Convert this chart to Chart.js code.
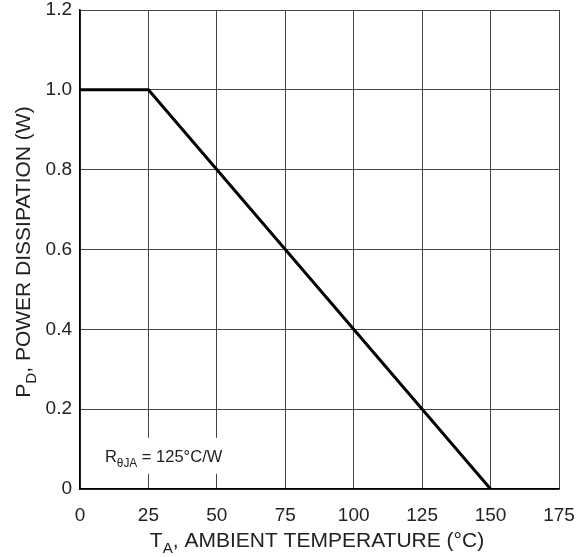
<!DOCTYPE html>
<html>
<head>
<meta charset="utf-8">
<script src="https://cdn.jsdelivr.net/npm/chart.js@4"></script>
<style>
  html, body { margin: 0; padding: 0; background: #fff; }
  #wrap { width: 579px; height: 557px; }
</style>
</head>
<body>
<div id="wrap"><canvas id="line-chart" width="579" height="557"></canvas></div>
<script>
// derating curve
var temps = [0, 25, 150];
var power = [1.0, 1.0, 0];
var xTicks = [0, 25, 50, 75, 100, 125, 150, 175];
var yTicks = [0, 0.2, 0.4, 0.6, 0.8, 1.0, 1.2];
var note = 'R', noteSub = '\u03b8JA', noteRest = ' = 125\u00b0C/W';

var FONT = '"Liberation Sans", Arial, sans-serif';

// subscript text helper
function subText(ctx, parts, x, y, size) {
    parts.forEach(function(p) {
        ctx.font = (p.sub ? size * 0.72 : size) + 'px ' + FONT;
        ctx.fillText(p.t, x, y + (p.sub ? size * 0.3 : 0));
        x += ctx.measureText(p.t).width;
    });
    return x;
}
function subWidth(ctx, parts, size) {
    var w = 0;
    parts.forEach(function(p) {
        ctx.font = (p.sub ? size * 0.72 : size) + 'px ' + FONT;
        w += ctx.measureText(p.t).width;
    });
    return w;
}

var extras = {
    id: 'extras',
    afterDatasetsDraw: function(chart) {
        var ctx = chart.ctx, xs = chart.scales.x, ys = chart.scales.y;
        ctx.save();
        ctx.fillStyle = '#222';
        ctx.textBaseline = 'alphabetic';
        ctx.textAlign = 'left';

        // note box over the grid
        var parts = [{t: note}, {t: noteSub, sub: true}, {t: noteRest}];
        var nx = xs.getPixelForValue(9.1), ny = ys.getPixelForValue(0.068);
        var w = subWidth(ctx, parts, 16.5);
        ctx.fillStyle = '#fff';
        ctx.fillRect(nx - 4, ny - 24, w + 8, 36);
        ctx.fillStyle = '#222';
        subText(ctx, parts, nx, ny, 16.5);

        // x title
        var xt = [{t: 'T'}, {t: 'A', sub: true}, {t: ', AMBIENT TEMPERATURE (\u00b0C)'}];
        var tw = subWidth(ctx, xt, 21);
        subText(ctx, xt, 317 - tw / 2, 547, 21);

        // y title
        var yt = [{t: 'P'}, {t: 'D', sub: true}, {t: ', POWER DISSIPATION (W)'}];
        var th = subWidth(ctx, yt, 21);
        ctx.translate(30, 252);
        ctx.rotate(-Math.PI / 2);
        subText(ctx, yt, -th / 2, 0, 21);
        ctx.restore();
    }
};

var ctx = document.getElementById('line-chart');
var chart = new Chart(ctx, {
    type: 'line',
    data: {
        datasets: [{
            data: temps.map(function(t, i) { return {x: t, y: power[i]}; }),
            borderColor: '#000',
            borderWidth: 3,
            pointRadius: 0,
            tension: 0
        }]
    },
    options: {
        responsive: false,
        animation: false,
        events: [],
        layout: { padding: { top: 10, right: 20, left: 0, bottom: 0 } },
        plugins: { legend: { display: false }, tooltip: { enabled: false } },
        scales: {
            x: {
                type: 'linear',
                min: 0, max: 175,
                afterBuildTicks: function(s) { s.ticks = xTicks.map(function(v) { return {value: v}; }); },
                afterFit: function(s) { s.height = 68; s.paddingLeft = 0; s.paddingRight = 0; },
                grid: { color: '#444', lineWidth: 1, drawTicks: false },
                border: { color: '#000', width: 1.5 },
                ticks: { color: '#222', padding: 15, maxRotation: 0, font: { family: FONT, size: 19 } }
            },
            y: {
                min: 0, max: 1.2,
                afterBuildTicks: function(s) { s.ticks = yTicks.map(function(v) { return {value: v}; }); },
                afterFit: function(s) { s.width = 80; s.paddingTop = 0; s.paddingBottom = 0; },
                grid: { color: '#444', lineWidth: 1, drawTicks: false },
                border: { color: '#000', width: 1.5 },
                ticks: {
                    color: '#222', padding: 8, font: { family: FONT, size: 19 },
                    callback: function(v) { return v === 0 ? '0' : v.toFixed(1); }
                }
            }
        }
    },
    plugins: [extras]
});
</script>
</body>
</html>
